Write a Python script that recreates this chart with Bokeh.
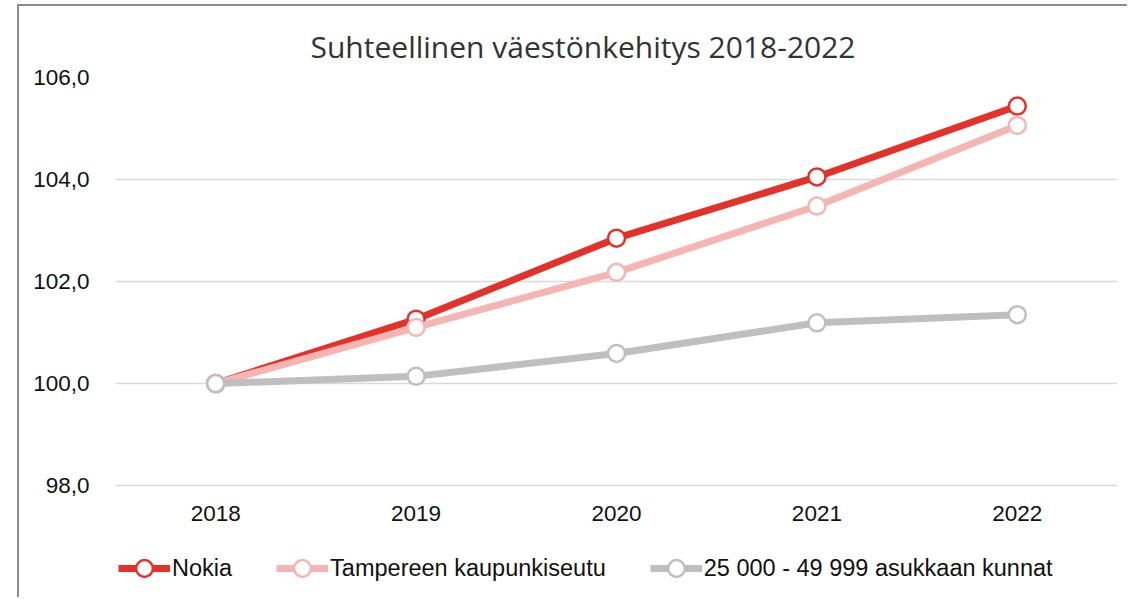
from bokeh.plotting import figure
from bokeh.models import Range1d, FactorRange, Legend, LegendItem, FixedTicker
from bokeh.core.properties import value
from bokeh.embed import file_html
from bokeh.resources import INLINE

years = ["2018", "2019", "2020", "2021", "2022"]
nokia = [100.0, 101.26, 102.85, 104.05, 105.44]
tampere = [100.0, 101.10, 102.18, 103.48, 105.06]
muut = [100.0, 100.14, 100.59, 101.19, 101.35]
series_names = ["Nokia", "Tampereen kaupunkiseutu", "25 000 - 49 999 asukkaan kunnat"]
series_colors = ["#E4322B", "#F5B6B3", "#BFBFBF"]
y_ticks = [98, 100, 102, 104, 106]
y_tick_labels = ["98,0", "100,0", "102,0", "104,0", "106,0"]
title_text = "Suhteellinen väestönkehitys 2018-2022"

# frame extends below the value axis to leave room for category labels and legend
y_lo, y_hi = 95.765, 106
x_label_y = 97.45

p = figure(width=1110, height=593, output_backend="svg", toolbar_location=None,
           x_range=FactorRange(*years, range_padding=0), y_range=Range1d(y_lo, y_hi),
           min_border_left=96, min_border_right=12, min_border_top=71, min_border_bottom=0)
p.styles = {"margin-left": "17px", "margin-top": "4px",
            "border-left": "2px solid #8c8c8c", "border-top": "2px solid #8c8c8c"}
p.outline_line_color = None
p.background_fill_color = "white"

p.title.text = title_text
p.title.align = "left"
p.title.offset = 195
p.title.standoff = 22
p.title.text_font = "Open Sans"
p.title.text_font_size = "30px"
p.title.text_font_style = "normal"
p.title.text_color = "#333333"

p.xgrid.grid_line_color = None
p.ygrid.grid_line_color = "#D9D9D9"
p.ygrid.grid_line_width = 1.5
p.yaxis.ticker = FixedTicker(ticks=y_ticks)
p.yaxis.major_label_overrides = {t: l for t, l in zip(y_ticks, y_tick_labels)}
p.xaxis.visible = False

ya = p.yaxis[0]
ya.axis_line_color = None
ya.major_tick_line_color = None
ya.minor_tick_line_color = None
ya.major_label_text_font = "Liberation Sans"
ya.major_label_text_font_size = "22.5px"
ya.major_label_text_color = "#111111"
ya.major_label_standoff = 20

p.text(x=years, y=[x_label_y] * len(years), text=years, text_align="center",
       text_baseline="middle", text_font=value("Liberation Sans"),
       text_font_size="22.5px", text_color="#111111")

items = []
for vals, name, col in zip([nokia, tampere, muut], series_names, series_colors):
    ln = p.line(years, vals, line_color=col, line_width=7)
    sc = p.scatter(years, vals, size=17, fill_color="white", line_color=col, line_width=2.5)
    items.append(LegendItem(label=name, renderers=[ln, sc]))

legend = Legend(items=items, orientation="horizontal", location=(3, 10),
                glyph_width=52, glyph_height=42, label_standoff=2, spacing=44,
                padding=0, margin=0, label_text_font="Liberation Sans",
                label_text_font_size="23.5px", label_text_color="#111111",
                border_line_color=None, background_fill_alpha=0)
p.add_layout(legend, "center")

open("out.html", "w").write(file_html(p, INLINE))
